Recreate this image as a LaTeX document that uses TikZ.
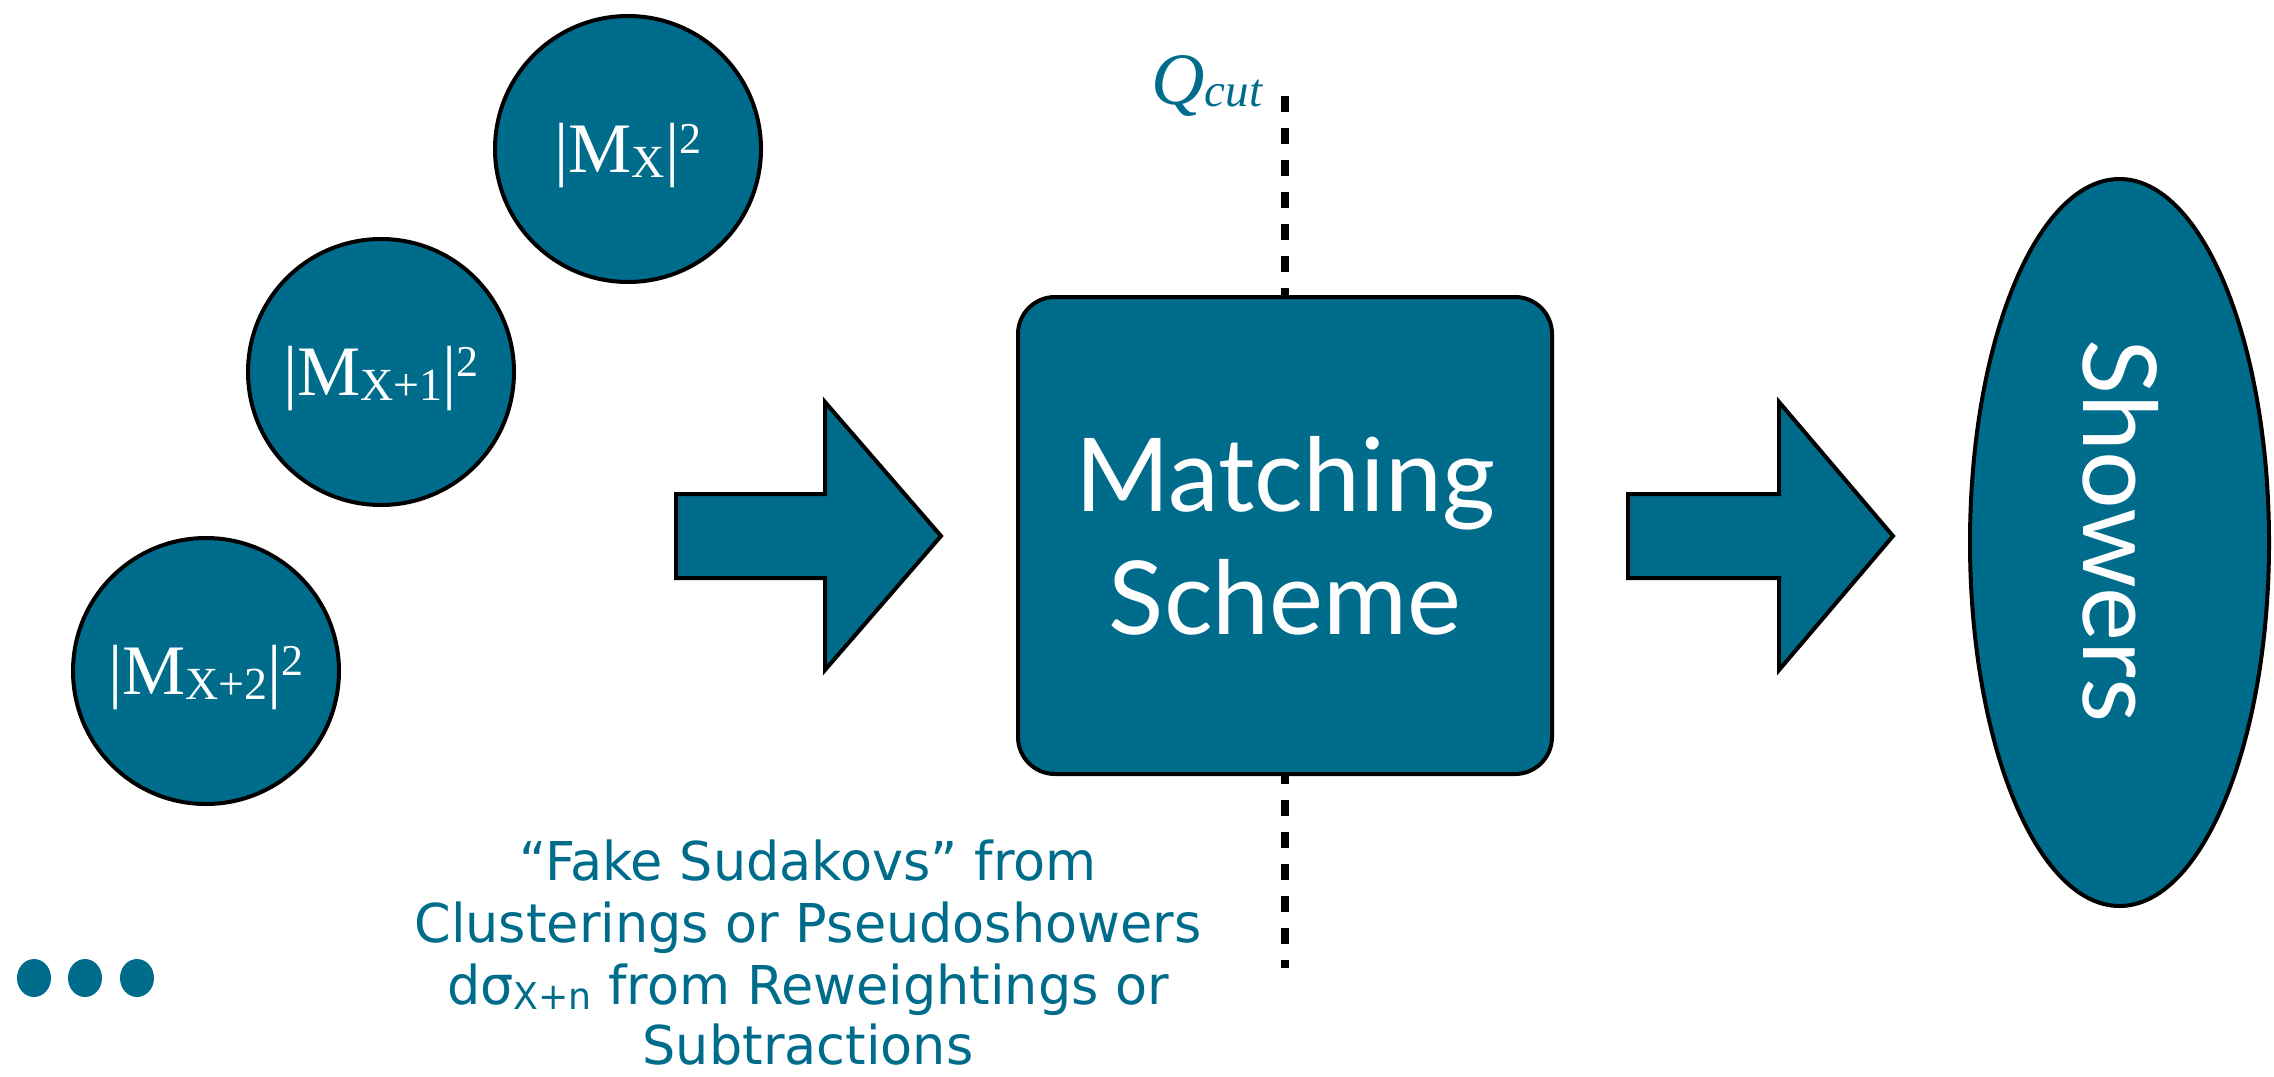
\documentclass[tikz,border=0pt]{standalone}
\usepackage{fontspec}
\setmainfont{Liberation Serif}
\newfontfamily\gillfont{Lato}
\newfontfamily\verdfont[FakeStretch=0.98]{DejaVu Sans}
\usetikzlibrary{shapes.geometric}
\definecolor{tealmain}{RGB}{0,108,140}
\newcommand{\ampl}[1]{{\fontsize{35.5}{36}\selectfont |M\raisebox{-2.5pt}{\fontsize{23}{23}\selectfont #1}|\raisebox{9.5pt}{\fontsize{22}{22}\selectfont 2}}}
\begin{document}
\begin{tikzpicture}[x=0.5pt,y=-0.5pt,
  blob/.style={circle, draw=black, line width=2pt, fill=tealmain, minimum size=133pt, inner sep=0pt},
  amptext/.style={text=white, anchor=base, inner sep=0pt},
  blockarrow/.style={draw=black, line width=2pt, fill=tealmain, line join=miter},
  cutline/.style={draw=black, line width=4pt, dash pattern=on 8pt off 8pt},
  subtext/.style={text=tealmain, anchor=base, inner sep=0pt, font=\verdfont\fontsize{26.75}{32}\selectfont},
  bigbox/.style={rounded corners=18.5pt, draw=black, line width=2pt, fill=tealmain, minimum width=267pt, minimum height=238.5pt, inner sep=0pt, align=center, text=white, font=\gillfont\fontsize{51}{61.5}\selectfont},
  dotstyle/.style={fill=tealmain}]
\useasboundingbox (0,0) rectangle (2274,1076);

% Q_cut dashed line (behind the box)
\coordinate (cuttop) at (1285,96);
\coordinate (cutbot) at (1285,968);
\draw[cutline] (cuttop) -- (cutbot);
\node[anchor=base west, text=tealmain, inner sep=0pt, font=\itshape\fontsize{37}{40}\selectfont] (qcut) at (1151,104) {Q\raisebox{-1pt}{\fontsize{23.5}{24}\selectfont cut}};

% amplitude circles
\node[blob] (m0) at (628,149) {};
\node[amptext] (m0t) at (628,172) {\ampl{X}};
\node[blob] (m1) at (381,372) {};
\node[amptext] (m1t) at (381,395) {\ampl{X+1}};
\node[blob] (m2) at (206,671) {};
\node[amptext] (m2t) at (206,694) {\ampl{X+2}};

% dots
\fill[dotstyle] (34,978) ellipse [x radius=17, y radius=19];
\fill[dotstyle] (85,978) ellipse [x radius=17, y radius=19];
\fill[dotstyle] (137,978) ellipse [x radius=17, y radius=19];

% block arrows
\draw[blockarrow] (676,494) -- (825,494) -- (825,402) -- (941,536) -- (825,670) -- (825,578) -- (676,578) -- cycle;
\draw[blockarrow] (1628,494) -- (1779,494) -- (1779,402) -- (1893,536) -- (1779,670) -- (1779,578) -- (1628,578) -- cycle;

% matching scheme box
\node[bigbox] (match) at (1285,535.5) {Matching\\Scheme};

% showers
\node[ellipse, draw=black, line width=2pt, fill=tealmain, minimum width=149.5pt, minimum height=363.5pt, inner sep=0pt] (showers) at (2119.5,542.5) {};
\node[rotate=-90, anchor=base, text=white, inner sep=0pt, font=\gillfont\fontsize{51}{51}\selectfont] (showerslabel) at (2083,531) {Showers};

% bottom text
\node[subtext] (sud1) at (808,880) {“Fake Sudakovs” from};
\node[subtext] (sud2) at (808,942) {Clusterings or Pseudoshowers};
\node[subtext] (sud3) at (808,1004) {dσ\raisebox{-2.5pt}{\fontsize{18.5}{19}\selectfont X+n} from Reweightings or};
\node[subtext] (sud4) at (808,1064) {Subtractions};
\end{tikzpicture}
\end{document}
